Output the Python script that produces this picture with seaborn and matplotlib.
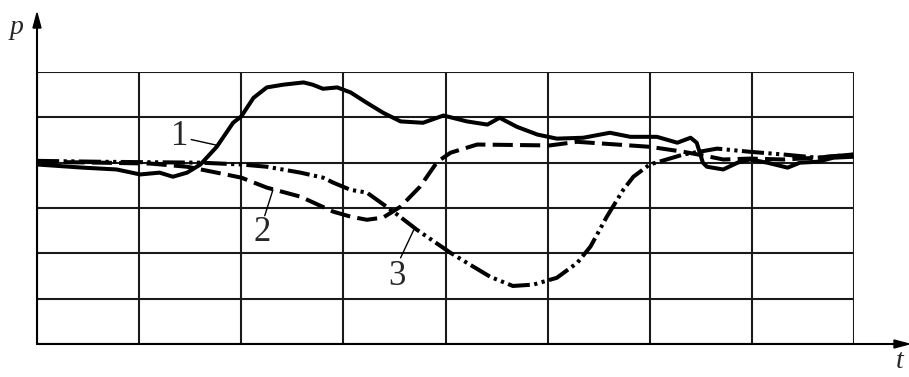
import numpy as np
import pandas as pd
import matplotlib
matplotlib.use("Agg")
import matplotlib.pyplot as plt
import seaborn as sns

# ================= data (grid units: 8 columns, rows -4..2) =================
t1 = [0, 0.45, 0.78, 1.01, 1.20, 1.33, 1.47, 1.60, 1.76, 1.92, 2.00, 2.12, 2.25, 2.41,
      2.61, 2.70, 2.80, 2.94, 3.07, 3.23, 3.39, 3.56, 3.78, 3.98, 4.21, 4.41, 4.53, 4.70,
      4.90, 5.09, 5.35, 5.61, 5.81, 6.07, 6.27, 6.40, 6.46, 6.52, 6.56, 6.72, 6.86, 6.98,
      7.15, 7.35, 7.47, 7.64, 7.80, 7.99]
p1 = [-0.04, -0.11, -0.15, -0.26, -0.22, -0.31, -0.22, -0.04, 0.35, 0.88, 1.02, 1.43, 1.66, 1.72,
      1.77, 1.72, 1.63, 1.66, 1.55, 1.32, 1.10, 0.91, 0.88, 1.04, 0.91, 0.84, 0.99, 0.79,
      0.62, 0.53, 0.55, 0.66, 0.57, 0.57, 0.44, 0.55, 0.44, 0.0, -0.09, -0.15, 0.0, 0.07,
      0.0, -0.11, 0.0, 0.02, 0.11, 0.13]

t2 = [0, 0.62, 1.11, 1.47, 1.76, 2.00, 2.25, 2.58, 2.90, 3.07, 3.23, 3.39, 3.56, 3.75,
      3.92, 4.05, 4.31, 5.02, 5.29, 6.00, 6.33, 6.59, 6.72, 6.98, 7.31, 7.64, 7.99]
p2 = [0.02, 0.0, -0.02, -0.09, -0.22, -0.33, -0.55, -0.75, -1.08, -1.19, -1.26, -1.21, -0.97, -0.53,
      0.02, 0.22, 0.40, 0.38, 0.46, 0.35, 0.24, 0.13, 0.07, 0.09, 0.07, 0.11, 0.18]

t3 = [0, 0.62, 1.60, 2.00, 2.25, 2.58, 2.80, 2.90, 3.07, 3.23, 3.49, 3.72, 4.05, 4.24,
      4.44, 4.66, 4.86, 5.09, 5.29, 5.42, 5.58, 5.74, 5.84, 6.00, 6.33, 6.66, 6.98, 7.31,
      7.64, 7.99]
p3 = [0.04, 0.02, 0.0, -0.04, -0.09, -0.22, -0.33, -0.44, -0.60, -0.66, -1.08, -1.48, -1.99, -2.25,
      -2.52, -2.72, -2.69, -2.54, -2.21, -1.85, -1.19, -0.60, -0.31, -0.04, 0.18, 0.31, 0.24, 0.18,
      0.11, 0.18]

labels = ["1", "2", "3"]
label_pos = [(1.40, 0.57), (2.20, -1.55), (3.52, -2.52)]
leader_from = [(1.51, 0.51), (2.23, -1.17), (3.56, -2.10)]
leader_to = [(1.77, 0.38), (2.31, -0.60), (3.70, -1.43)]
# ==========================================

sns.set_style("white")
plt.rcParams["font.family"] = ["DejaVu Serif"]

W, H = 909, 377
fig = plt.figure(figsize=(W / 100, H / 100), dpi=100)
x0, x1, ytop, ybot = 37, 854, 72, 344
ax = fig.add_axes([x0 / W, (H - ybot) / H, (x1 - x0) / W, (ybot - ytop) / H])
ax.set_xlim(0, 8)
ax.set_ylim(-4, 2)
ax.set_xticks(np.arange(0, 9))
ax.set_yticks(np.arange(-4, 3))
ax.tick_params(length=0, labelbottom=False, labelleft=False)
ax.grid(True, color="#1a1a1a", linewidth=1.5)
for s in ax.spines.values():
    s.set_visible(False)

df = pd.concat([
    pd.DataFrame({"t": t1, "p": p1, "curve": "1"}),
    pd.DataFrame({"t": t2, "p": p2, "curve": "2"}),
    pd.DataFrame({"t": t3, "p": p3, "curve": "3"}),
])

dash_styles = {"1": "", "2": (5, 1.8), "3": (5.5, 1.1, 0.8, 1.1, 0.8, 1.1)}
for name, grp in df.groupby("curve"):
    sns.lineplot(data=grp, x="t", y="p", ax=ax, sort=False, estimator=None,
                 color="black", linewidth=2.9, legend=False)
    ln = ax.lines[-1]
    ln.set_solid_joinstyle("round")
    ln.set_dash_joinstyle("round")
    if dash_styles[name]:
        ln.set_dashes(dash_styles[name])
        ln.set_dash_capstyle("butt")
ax.set_xlabel("")
ax.set_ylabel("")

# curve numbers with leader lines
for lab, (lx, ly), (ax0, ay0), (ax1_, ay1) in zip(labels, label_pos, leader_from, leader_to):
    ax.text(lx, ly, lab, fontsize=25, ha="center", va="center", family="Liberation Serif")
    ax.plot([ax0, ax1_], [ay0, ay1], color="black", linewidth=1.0)

# axes with arrows (figure pixel coords)
def fx(px):
    return px / W

def fy(py):
    return (H - py) / H

fig.add_artist(matplotlib.lines.Line2D([fx(37), fx(37)], [fy(344), fy(25)], color="black", lw=1.5))
fig.add_artist(matplotlib.lines.Line2D([fx(37), fx(897)], [fy(344), fy(344)], color="black", lw=1.5))
fig.add_artist(matplotlib.patches.Polygon(
    [[fx(37), fy(13)], [fx(33), fy(28)], [fx(41), fy(28)]], closed=True,
    transform=fig.transFigure, color="black"))
fig.add_artist(matplotlib.patches.Polygon(
    [[fx(909), fy(344)], [fx(894), fy(340)], [fx(894), fy(348)]], closed=True,
    transform=fig.transFigure, color="black"))

fig.text(fx(17), fy(27), "p", fontsize=20, style="italic", family="Liberation Serif",
         ha="center", va="center")
fig.text(fx(900), fy(362), "t", fontsize=20, style="italic", family="Liberation Serif",
         ha="center", va="center")

fig.savefig("out.png", dpi=100)
